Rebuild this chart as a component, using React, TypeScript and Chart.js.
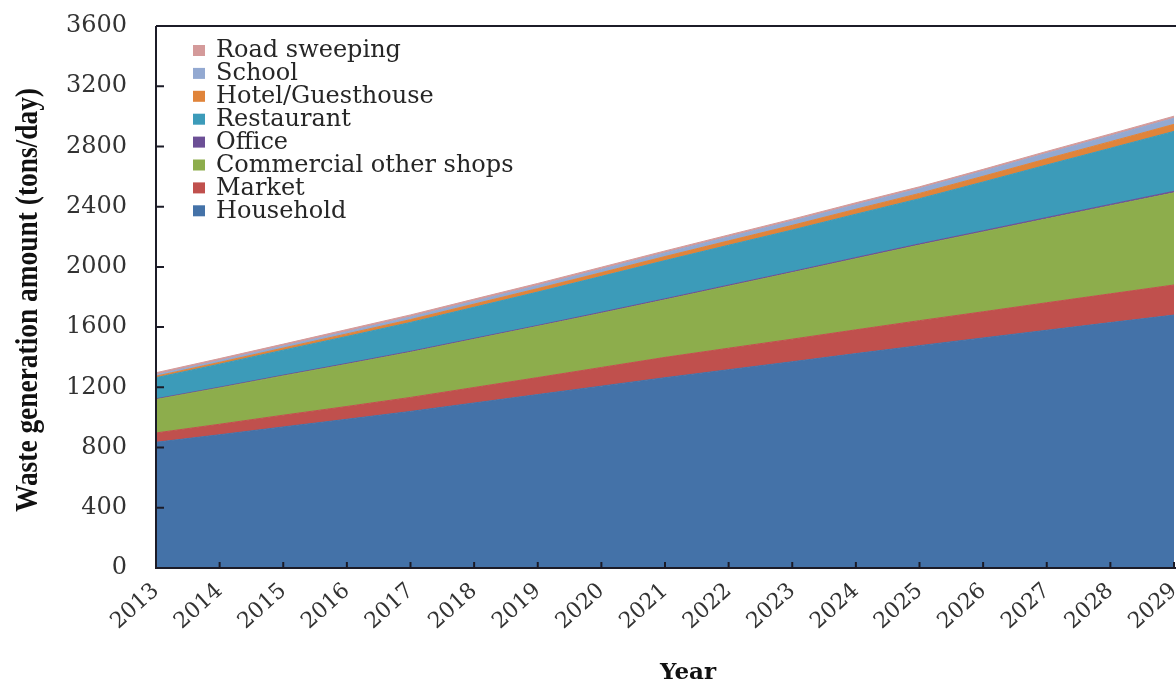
import React, { useEffect, useRef } from "react";
import { Chart, registerables } from "chart.js";

Chart.register(...registerables);

const years = ["2013", "2014", "2015", "2016", "2017", "2018", "2019", "2020", "2021", "2022", "2023", "2024", "2025", "2026", "2027", "2028", "2029"];

const household = [835, 885, 937, 988, 1040, 1096, 1152, 1208, 1264, 1317, 1370, 1424, 1477, 1528, 1579, 1630, 1680];
const market = [62, 70, 78, 85, 93, 103, 113, 124, 135, 143, 150, 158, 166, 174, 183, 191, 200];
const commercial = [222, 241, 261, 280, 300, 320, 340, 360, 382, 412, 442, 472, 502, 530, 557, 585, 612];
const office = [5, 5, 5, 6, 6, 6, 6, 7, 7, 7, 7, 8, 8, 8, 9, 9, 10];
const restaurant = [140, 153, 166, 179, 192, 207, 222, 238, 254, 265, 276, 288, 300, 324, 349, 373, 398];
const hotel = [10, 12, 14, 17, 19, 21, 23, 25, 27, 29, 31, 33, 35, 38, 41, 44, 47];
const school = [10, 12, 13, 15, 17, 19, 20, 22, 24, 26, 28, 30, 32, 34, 36, 38, 40];
const roadSweeping = [13, 13, 13, 14, 14, 14, 14, 14, 13, 13, 13, 13, 12, 12, 13, 13, 14];

const seriesNames = ["Household", "Market", "Commercial other shops", "Office", "Restaurant", "Hotel/Guesthouse", "School", "Road sweeping"];
const seriesValues = [household, market, commercial, office, restaurant, hotel, school, roadSweeping];
const seriesColors = ["#4472A8", "#C0504D", "#8DAD4C", "#6C4F96", "#3C9BB9", "#E0843A", "#93A9D1", "#D49A9A"];

const yTitle = "Waste generation amount (tons/day)";
const xTitle = "Year";
const yTicks = [0, 400, 800, 1200, 1600, 2000, 2400, 2800, 3200, 3600];

const AXIS = "#1c1c28";
const TICK_TEXT = "#333333";

export default function App() {
  const ref = useRef<HTMLCanvasElement>(null);

  useEffect(() => {
    const canvas = ref.current;
    if (!canvas) return;

    const decorPlugin = {
      id: "decor",
      afterDatasetsDraw(chart: any) {
        const { ctx, chartArea } = chart;
        const xs = chart.scales.x;
        const ys = chart.scales.y;
        ctx.save();
        ctx.strokeStyle = AXIS;
        ctx.lineWidth = 2;
        ctx.beginPath();
        ctx.moveTo(chartArea.left, chartArea.top);
        ctx.lineTo(chartArea.right + 10, chartArea.top);
        ctx.moveTo(chartArea.left, chartArea.top);
        ctx.lineTo(chartArea.left, chartArea.bottom);
        ctx.lineTo(chartArea.right + 10, chartArea.bottom);
        ctx.stroke();
        ctx.beginPath();
        yTicks.forEach((v) => {
          const y = ys.getPixelForValue(v);
          ctx.moveTo(chartArea.left, y);
          ctx.lineTo(chartArea.left + 8, y);
        });
        years.forEach((_, i) => {
          const x = xs.getPixelForValue(i);
          ctx.moveTo(x, chartArea.bottom);
          ctx.lineTo(x, chartArea.bottom - 6);
        });
        ctx.stroke();
        ctx.restore();
      },
      afterDraw(chart: any) {
        const { ctx } = chart;
        ctx.save();
        // legend (reverse order, inside plot)
        const items = chart.data.datasets.map((d: any) => ({ label: d.label, color: d.backgroundColor })).reverse();
        ctx.font = '24px "DejaVu Serif"';
        ctx.textBaseline = "middle";
        ctx.textAlign = "left";
        items.forEach((it: any, k: number) => {
          const cy = 50 + k * 22.9;
          ctx.fillStyle = it.color;
          ctx.fillRect(193, cy - 5, 12, 11);
          ctx.fillStyle = "#262626";
          ctx.fillText(it.label, 216, cy + 1);
        });
        // y title
        ctx.save();
        ctx.translate(37, 300);
        ctx.rotate(-Math.PI / 2);
        ctx.font = 'bold 32px "Liberation Serif"';
        const w = ctx.measureText(yTitle).width;
        ctx.scale(424 / w, 1);
        ctx.textAlign = "center";
        ctx.textBaseline = "alphabetic";
        ctx.fillStyle = "#111";
        ctx.fillText(yTitle, 0, 0);
        ctx.restore();
        // x title
        ctx.font = 'bold 23px "DejaVu Serif"';
        ctx.textAlign = "center";
        ctx.textBaseline = "alphabetic";
        ctx.fillStyle = "#111";
        ctx.fillText(xTitle, 688, 679);
        ctx.restore();
      },
    };

    const datasets = seriesNames.map((name, i) => ({
      label: name,
      data: seriesValues[i],
      backgroundColor: seriesColors[i],
      borderColor: seriesColors[i],
      borderWidth: 1,
      pointRadius: 0,
      tension: 0,
      fill: i === 0 ? "origin" : "-1",
    }));

    const chart = new Chart(canvas, {
      type: "line",
      data: { labels: years, datasets },
      options: {
        responsive: false,
        animation: false,
        layout: { padding: { top: 26, right: 2, left: 0, bottom: 0 } },
        plugins: { legend: { display: false }, tooltip: { enabled: false } },
        scales: {
          x: {
            type: "category",
            offset: false,
            grid: { display: false, drawTicks: false },
            border: { display: false },
            ticks: {
              autoSkip: false,
              minRotation: 42,
              maxRotation: 42,
              padding: 10,
              color: TICK_TEXT,
              font: { family: "DejaVu Serif", size: 22 },
            },
            afterFit: (s: any) => {
              s.height = 114;
              s.paddingLeft = 0;
              s.paddingRight = 0;
            },
          },
          y: {
            stacked: true,
            min: 0,
            max: 3600,
            grid: { display: false, drawTicks: false },
            border: { display: false },
            ticks: {
              stepSize: 400,
              padding: 29,
              color: TICK_TEXT,
              font: { family: "DejaVu Serif", size: 24 },
              callback: (v: any) => String(v),
            },
            afterFit: (s: any) => {
              s.width = 156;
              s.paddingTop = 0;
              s.paddingBottom = 0;
            },
          },
        },
      },
      plugins: [decorPlugin],
    } as any);

    return () => chart.destroy();
  }, []);

  return (
    <div style={{ position: "fixed", left: 0, top: 0, width: 1176, height: 682, background: "#fff", overflow: "hidden" }}>
      <canvas ref={ref} width={1176} height={682} style={{ display: "block", width: 1176, height: 682 }} />
    </div>
  );
}
